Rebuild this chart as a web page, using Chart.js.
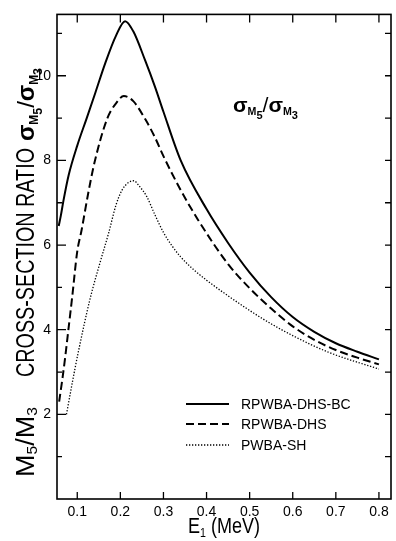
<!DOCTYPE html>
<html>
<head>
<meta charset="utf-8">
<script src="https://cdn.jsdelivr.net/npm/chart.js@4.4.1/dist/chart.umd.min.js"></script>
<style>
  html, body { margin: 0; padding: 0; background: #fff; }
  canvas { display: block; }
</style>
</head>
<body>
<canvas id="ratioChart" width="396" height="541"></canvas>
<script>
// M5/M3 cross-section ratio vs E1 (MeV)
const bcEnergy = [0.057, 0.062, 0.068, 0.08, 0.1, 0.122, 0.142, 0.165, 0.19, 0.211, 0.23, 0.258, 0.28, 0.30, 0.34, 0.40, 0.45, 0.50, 0.55, 0.60, 0.65, 0.70, 0.75, 0.80];
const bcRatio = [6.45, 6.7, 7.05, 7.65, 8.35, 9.0, 9.6, 10.3, 10.95, 11.29, 11.05, 10.35, 9.75, 9.15, 8.0, 6.85, 6.05, 5.35, 4.77, 4.3, 3.95, 3.68, 3.48, 3.3];

const dhsEnergy = [0.058, 0.065, 0.072, 0.08, 0.088, 0.1, 0.11, 0.125, 0.14, 0.17, 0.19, 0.208, 0.23, 0.258, 0.28, 0.30, 0.34, 0.38, 0.45, 0.50, 0.55, 0.60, 0.65, 0.70, 0.75, 0.80];
const dhsRatio = [2.3, 2.8, 3.35, 4.05, 4.75, 5.85, 6.35, 7.2, 7.95, 9.0, 9.35, 9.52, 9.4, 8.97, 8.55, 8.1, 7.3, 6.6, 5.55, 4.98, 4.5, 4.08, 3.76, 3.52, 3.34, 3.18];

const shEnergy = [0.075, 0.09, 0.103, 0.13, 0.153, 0.173, 0.19, 0.204, 0.218, 0.231, 0.245, 0.261, 0.28, 0.30, 0.32, 0.34, 0.37, 0.40, 0.45, 0.53, 0.60, 0.685, 0.80];
const shRatio = [2.0, 2.83, 3.5, 4.74, 5.59, 6.29, 6.95, 7.3, 7.47, 7.52, 7.38, 7.15, 6.72, 6.3, 5.98, 5.72, 5.42, 5.17, 4.8, 4.26, 3.86, 3.46, 3.07];

const seriesNames = ['RPWBA-DHS-BC', 'RPWBA-DHS', 'PWBA-SH'];
const xTicks = [0.1, 0.2, 0.3, 0.4, 0.5, 0.6, 0.7, 0.8];
const yTicks = [1, 2, 3, 4, 5, 6, 7, 8, 9, 10, 11];

const FONT = "'Liberation Sans', Arial, sans-serif";

const toPoints = (xs, ys) => xs.map((x, i) => ({ x: x, y: ys[i] }));

// draws a row of text pieces (with sub-scripts), squeezed to fit a given length
function drawRuns(ctx, runs, x, y, span) {
  let w = 0;
  runs.forEach(r => {
    ctx.font = (r[2] ? 'bold ' : '') + r[1] + 'px ' + FONT;
    w += ctx.measureText(r[0]).width;
  });
  ctx.save();
  ctx.translate(x, y);
  ctx.scale(span / w, 1);
  let cx = 0;
  runs.forEach(r => {
    ctx.font = (r[2] ? 'bold ' : '') + r[1] + 'px ' + FONT;
    ctx.fillText(r[0], cx, r[3] || 0);
    cx += ctx.measureText(r[0]).width;
  });
  ctx.restore();
}

const sigmaRuns = (big) => [
  ['σ', big, true], ['M', big * 0.5, true, big * 0.15], ['5', big * 0.52, true, big * 0.32],
  ['/', big, false], ['σ', big, true], ['M', big * 0.5, true, big * 0.15], ['3', big * 0.52, true, big * 0.32]
];

const decorations = {
  id: 'decorations',
  afterDraw(chart) {
    const { ctx, chartArea: a, scales: { x, y } } = chart;
    ctx.save();
    ctx.strokeStyle = '#000';
    ctx.fillStyle = '#000';

    // frame + inward ticks
    ctx.lineWidth = 1.6;
    ctx.strokeRect(a.left, a.top, a.right - a.left, a.bottom - a.top);
    ctx.lineWidth = 1.3;
    ctx.beginPath();
    xTicks.forEach(v => {
      const px = x.getPixelForValue(v);
      ctx.moveTo(px, a.bottom); ctx.lineTo(px, a.bottom - 7);
      ctx.moveTo(px, a.top); ctx.lineTo(px, a.top + 8);
    });
    yTicks.forEach(v => {
      const py = y.getPixelForValue(v);
      ctx.moveTo(a.left, py); ctx.lineTo(a.left + (v % 2 === 0 ? 9 : 5), py);
      ctx.moveTo(a.right, py); ctx.lineTo(a.right - 6, py);
    });
    ctx.stroke();

    // legend
    const ly = [404, 424, 445];
    chart.data.datasets.forEach((ds, i) => {
      ctx.save();
      ctx.lineWidth = ds.borderWidth;
      ctx.setLineDash(ds.borderDash || []);
      ctx.beginPath();
      ctx.moveTo(186, ly[i]); ctx.lineTo(229, ly[i]);
      ctx.stroke();
      ctx.restore();
      ctx.font = '14px ' + FONT;
      ctx.textBaseline = 'middle';
      ctx.fillText(ds.label, 241, ly[i] + 1);
    });
    ctx.textBaseline = 'alphabetic';

    // in-plot annotation
    drawRuns(ctx, sigmaRuns(21), 233, 112, 65);

    // x title
    drawRuns(ctx, [['E', 22], ['1', 13, false, 4], [' (MeV)', 22]], 188, 533, 72);

    // y title, rotated
    ctx.save();
    ctx.translate(34, 0);
    ctx.rotate(-Math.PI / 2);
    drawRuns(ctx, [['M', 26], ['5', 15, false, 3], ['/', 26], ['M', 26], ['3', 15, false, 3]], -477, 0, 70);
    drawRuns(ctx, [['CROSS-SECTION RATIO', 26]], -377, 0, 229);
    drawRuns(ctx, sigmaRuns(24), -141, 0, 73);
    ctx.restore();

    ctx.restore();
  }
};

new Chart(document.getElementById('ratioChart'), {
  type: 'line',
  data: {
    datasets: [{
      label: seriesNames[0],
      data: toPoints(bcEnergy, bcRatio),
      borderColor: '#000',
      borderWidth: 2,
      pointRadius: 0,
      cubicInterpolationMode: 'monotone'
    }, {
      label: seriesNames[1],
      data: toPoints(dhsEnergy, dhsRatio),
      borderColor: '#000',
      borderWidth: 2,
      borderDash: [8, 4],
      pointRadius: 0,
      cubicInterpolationMode: 'monotone'
    }, {
      label: seriesNames[2],
      data: toPoints(shEnergy, shRatio),
      borderColor: '#000',
      borderWidth: 1.3,
      borderDash: [1.3, 1.7],
      pointRadius: 0,
      cubicInterpolationMode: 'monotone'
    }]
  },
  options: {
    responsive: false,
    animation: false,
    layout: { padding: { top: 8, right: 5, left: 0, bottom: 0 } },
    plugins: { legend: { display: false }, tooltip: { enabled: false } },
    scales: {
      x: {
        type: 'linear',
        min: 0.053,
        max: 0.828,
        grid: { display: false, drawTicks: false },
        border: { display: false },
        afterBuildTicks: s => { s.ticks = xTicks.map(v => ({ value: v })); },
        afterFit: s => { s.height = 42; },
        ticks: {
          autoSkip: false,
          maxRotation: 0,
          padding: 5,
          color: '#000',
          font: { family: FONT, size: 14 },
          callback: v => v.toFixed(1)
        }
      },
      y: {
        min: 0,
        max: 11.45,
        grid: { display: false, drawTicks: false },
        border: { display: false },
        afterBuildTicks: s => { s.ticks = yTicks.map(v => ({ value: v })); },
        afterFit: s => { s.width = 57; },
        ticks: {
          autoSkip: false,
          padding: 6,
          color: '#000',
          font: { family: FONT, size: 14 },
          callback: v => (v % 2 === 0 ? v : '')
        }
      }
    }
  },
  plugins: [decorations]
});
</script>
</body>
</html>
